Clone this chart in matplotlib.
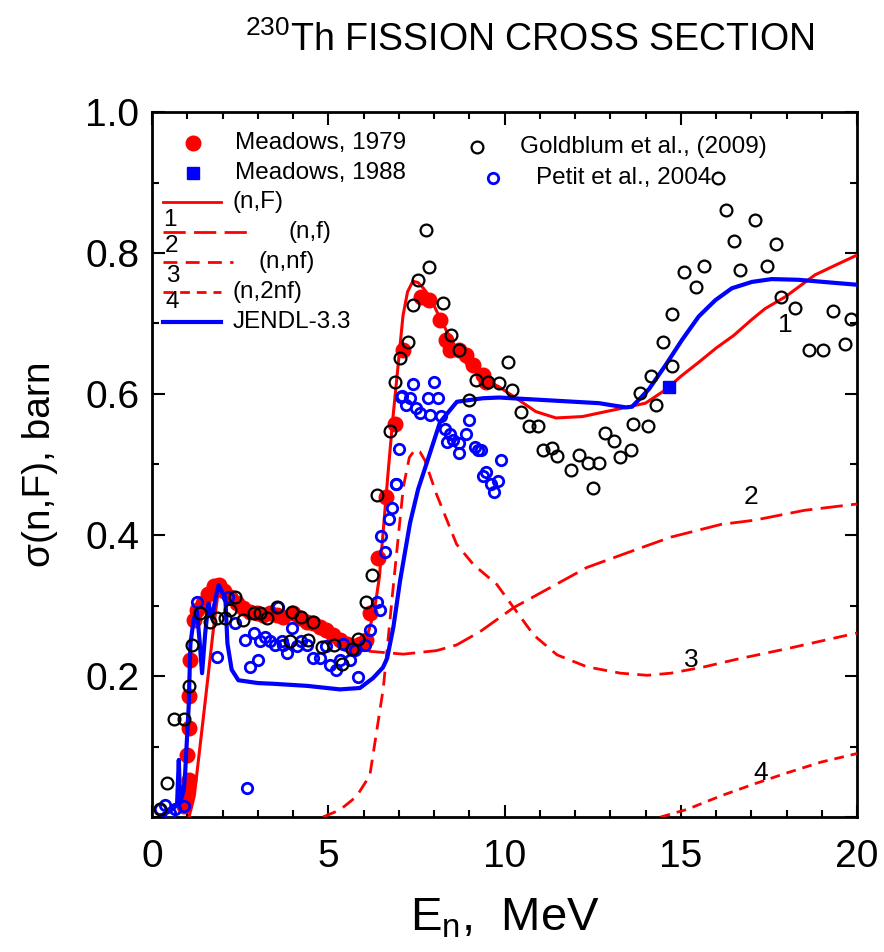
import numpy as np
import matplotlib
matplotlib.use("Agg")
import matplotlib.pyplot as plt
from matplotlib.lines import Line2D
from matplotlib.ticker import MultipleLocator, FuncFormatter

plt.rcParams['font.family'] = ['Liberation Sans', 'DejaVu Sans']
plt.rcParams['mathtext.fontset'] = 'custom'
plt.rcParams['mathtext.rm'] = 'Liberation Sans'
plt.rcParams['mathtext.it'] = 'Liberation Sans'

# ---- evaluated curves ----
# 1: (n,F) total
nF_e = [1.05, 1.2, 1.5, 1.75, 1.88, 2.0, 2.2, 2.5, 3.0, 3.5, 4.0, 4.5, 5.0, 5.3, 5.6, 5.9,
        6.1, 6.3, 6.45, 6.55, 6.7, 6.84, 7.0, 7.12, 7.25, 7.4, 7.55, 7.7, 7.88, 8.1, 8.37,
        8.74, 9.0, 9.39, 9.85, 10.42, 10.89, 11.46, 12.21, 12.87, 13.45, 14.0, 14.6, 15.0,
        15.51, 16.0, 16.5, 17.0, 17.39, 17.97, 18.81, 19.4, 20.0]
nF_s = [0.0, 0.03, 0.16, 0.27, 0.32, 0.322, 0.312, 0.30, 0.291, 0.288, 0.286, 0.277, 0.264,
        0.255, 0.246, 0.246, 0.256, 0.29, 0.34, 0.40, 0.49, 0.569, 0.65, 0.711, 0.745, 0.76,
        0.758, 0.75, 0.738, 0.715, 0.688, 0.655, 0.638, 0.622, 0.610, 0.591, 0.575, 0.566,
        0.568, 0.575, 0.581, 0.587, 0.607, 0.625, 0.645, 0.665, 0.683, 0.705, 0.721, 0.738,
        0.769, 0.783, 0.797]

# 2: (n,f) first chance
nf_e = [6.0, 6.18, 7.13, 8.07, 8.64, 9.31, 10.26, 11.21, 12.34, 13.77, 14.72, 16.14, 17.09,
        18.51, 20.0]
nf_s = [0.240, 0.235, 0.231, 0.236, 0.244, 0.263, 0.297, 0.323, 0.354, 0.380, 0.397, 0.415,
        0.421, 0.435, 0.444]

# 3: (n,nf)
nnf_e = [4.85, 5.33, 5.8, 6.18, 6.56, 6.84, 7.13, 7.3, 7.46, 7.6, 7.74, 8.07, 8.64, 9.12,
         9.78, 10.26, 10.83, 11.49, 12.34, 13.29, 14.05, 14.72, 15.67, 16.61, 18.04, 20.0]
nnf_s = [0.0, 0.01, 0.029, 0.059, 0.182, 0.325, 0.468, 0.51, 0.521, 0.518, 0.506, 0.458,
         0.387, 0.358, 0.330, 0.297, 0.258, 0.230, 0.213, 0.204, 0.201, 0.204, 0.213, 0.224,
         0.239, 0.261]

# 4: (n,2nf)
n2nf_e = [14.43, 15.19, 16.14, 17.09, 18.04, 18.99, 20.0]
n2nf_s = [0.0, 0.011, 0.030, 0.047, 0.063, 0.078, 0.090]

# JENDL-3.3
jendl_e = [0.3, 0.5, 0.71, 0.76, 0.80, 0.90, 0.94, 0.99, 1.04, 1.09, 1.18, 1.27, 1.35, 1.42,
           1.51, 1.60, 1.70, 1.80, 1.89, 2.0, 2.08, 2.14, 2.26, 2.45, 3.0, 3.43, 4.4, 5.33,
           5.9, 6.27, 6.55, 6.67, 6.85, 7.04, 7.32, 7.55, 7.8, 8.17, 8.65, 9.39, 9.85, 11.27,
           12.68, 13.05, 13.45, 13.62, 14.1, 14.57, 15.04, 15.51, 15.98, 16.45, 17.02,
           17.58, 18.34, 19.28, 20.0]
jendl_s = [0.003, 0.008, 0.017, 0.081, 0.02, 0.038, 0.062, 0.109, 0.156, 0.246, 0.279, 0.294,
           0.25, 0.204, 0.261, 0.303, 0.282, 0.31, 0.329, 0.318, 0.312, 0.246, 0.209, 0.194,
           0.190, 0.189, 0.186, 0.181, 0.183, 0.197, 0.212, 0.225, 0.27, 0.336, 0.417, 0.465,
           0.503, 0.56, 0.589, 0.594, 0.595, 0.591, 0.587, 0.584, 0.581, 0.582, 0.607, 0.641,
           0.677, 0.710, 0.733, 0.750, 0.759, 0.763, 0.762, 0.758, 0.755]

# ---- experimental data ----
meadows79_e = [0.90, 0.94, 0.99, 1.04, 0.99, 1.04, 1.06, 1.09, 1.18, 1.27, 1.46, 1.60, 1.75,
               1.89, 2.03, 2.22, 2.41, 2.59, 2.78, 2.97, 3.16, 3.35, 3.54, 3.72, 4.01, 4.20,
               4.39, 4.57, 4.76, 4.95, 5.14, 5.33, 5.52, 5.70, 5.89, 6.08, 6.18, 6.41, 6.65,
               6.88, 7.12, 7.64, 7.87, 8.16, 8.35, 8.44, 8.72, 8.91, 9.10, 9.38, 9.48]
meadows79_s = [0.015, 0.024, 0.038, 0.052, 0.088, 0.126, 0.171, 0.223, 0.279, 0.294, 0.303,
               0.317, 0.327, 0.329, 0.320, 0.312, 0.303, 0.296, 0.291, 0.289, 0.287, 0.289,
               0.287, 0.284, 0.289, 0.282, 0.277, 0.275, 0.270, 0.265, 0.258, 0.251, 0.246,
               0.242, 0.246, 0.251, 0.289, 0.367, 0.454, 0.558, 0.662, 0.738, 0.733, 0.705,
               0.677, 0.662, 0.662, 0.655, 0.641, 0.627, 0.617]

meadows88_e = [14.68]
meadows88_s = [0.610]

goldblum_e = [0.24, 0.43, 0.61, 0.90, 1.04, 1.13, 1.37, 1.65, 1.84, 2.08, 2.22, 2.36, 2.59,
              2.88, 3.07, 3.25, 3.54, 3.96, 4.24, 4.57, 3.91, 4.43, 4.81, 5.17, 5.40, 5.66,
              5.85, 6.06, 6.25, 6.37, 6.74, 6.88, 7.04, 7.26, 7.40, 7.54, 7.78, 7.87, 8.25,
              8.49, 8.70, 9.0, 9.19, 9.52, 9.85, 10.09, 10.21, 10.47, 10.70, 10.94, 11.08,
              11.36, 11.50, 11.88, 12.12, 12.38, 12.68, 12.51, 12.85, 13.10, 13.29, 13.58,
              13.65, 14.08, 13.84, 14.30, 14.17, 14.75, 14.49, 14.75, 15.08, 15.44, 15.67,
              16.05, 16.29, 16.52, 16.69, 17.11, 17.44, 17.71, 17.84, 18.24, 19.31, 19.83,
              18.64, 19.04, 19.66]
goldblum_s = [0.011, 0.048, 0.139, 0.139, 0.186, 0.244, 0.289, 0.277, 0.282, 0.282, 0.294,
              0.312, 0.280, 0.289, 0.289, 0.282, 0.298, 0.291, 0.283, 0.277, 0.249, 0.251,
              0.241, 0.244, 0.217, 0.238, 0.252, 0.305, 0.343, 0.457, 0.548, 0.617, 0.651,
              0.674, 0.726, 0.762, 0.833, 0.780, 0.729, 0.684, 0.663, 0.592, 0.620, 0.617,
              0.615, 0.646, 0.606, 0.575, 0.555, 0.555, 0.521, 0.524, 0.512, 0.492, 0.513,
              0.502, 0.502, 0.466, 0.544, 0.534, 0.511, 0.521, 0.557, 0.555, 0.602, 0.585,
              0.626, 0.640, 0.674, 0.714, 0.773, 0.752, 0.782, 0.906, 0.861, 0.817, 0.776,
              0.847, 0.782, 0.813, 0.738, 0.722, 0.718, 0.707, 0.663, 0.663, 0.671]

petit_e = [0.24, 0.38, 0.52, 0.66, 0.90, 1.27, 1.84, 2.17, 2.36, 2.69, 2.64, 2.78, 2.88,
           3.02, 3.07, 3.21, 3.35, 3.49, 3.58, 3.68, 3.72, 3.82, 3.96, 4.10, 4.24, 4.39,
           4.57, 4.76, 4.95, 5.05, 5.23, 5.33, 5.42, 5.61, 5.75, 5.85, 6.04, 6.18, 6.37,
           6.46, 6.51, 6.60, 6.72, 6.80, 6.91, 7.02, 7.09, 7.21, 7.40, 8.01, 7.07, 7.31,
           7.50, 7.59, 7.83, 8.11, 7.90, 8.20, 8.30, 8.44, 8.53, 8.36, 8.72, 8.70, 8.91,
           9.0, 9.15, 9.24, 9.33, 9.90, 9.48, 9.38, 9.62, 9.81, 9.71, 6.93]
petit_s = [0.012, 0.017, 0.005, 0.012, 0.015, 0.305, 0.227, 0.312, 0.275, 0.041, 0.251,
           0.213, 0.261, 0.223, 0.249, 0.256, 0.249, 0.244, 0.298, 0.249, 0.244, 0.232,
           0.268, 0.242, 0.249, 0.244, 0.225, 0.225, 0.242, 0.216, 0.209, 0.223, 0.246,
           0.223, 0.237, 0.199, 0.244, 0.265, 0.305, 0.294, 0.398, 0.376, 0.422, 0.439,
           0.472, 0.522, 0.597, 0.584, 0.614, 0.617, 0.596, 0.594, 0.580, 0.573, 0.595,
           0.594, 0.570, 0.569, 0.551, 0.543, 0.535, 0.532, 0.530, 0.517, 0.543, 0.563,
           0.525, 0.521, 0.520, 0.506, 0.490, 0.483, 0.473, 0.476, 0.461, 0.473]

RED = '#ff0000'
BLUE = '#0000ff'

fig = plt.figure(figsize=(8.84, 9.52), dpi=100)
ax = fig.add_axes([152 / 884, 1 - 817 / 952, 705 / 884, 705 / 952])

# curves
ax.plot(nF_e, nF_s, color=RED, lw=2.2, zorder=3)
ax.plot(nf_e, nf_s, color=RED, lw=2.0, dashes=(8, 3), zorder=3)
ax.plot(nnf_e, nnf_s, color=RED, lw=2.0, dashes=(5, 3), zorder=3)
ax.plot(n2nf_e, n2nf_s, color=RED, lw=2.0, dashes=(3.5, 2.5), zorder=3)

# data
ax.plot(meadows79_e, meadows79_s, 'o', color=RED, ms=10.5, mec=RED, zorder=2)
ax.plot(meadows88_e, meadows88_s, 's', color=BLUE, ms=9, zorder=6)
ax.plot(petit_e, petit_s, 'o', mfc='none', mec=BLUE, ms=7.5, mew=2.0, zorder=4)
ax.plot(jendl_e, jendl_s, color=BLUE, lw=3.0, zorder=5)
ax.plot(goldblum_e, goldblum_s, 'o', mfc='none', mec='black', ms=8.5, mew=1.6, zorder=6)

# curve numbers
ax.text(17.97, 0.698, '1', fontsize=19, ha='center', va='center')
ax.text(16.98, 0.454, '2', fontsize=19, ha='center', va='center')
ax.text(15.29, 0.223, '3', fontsize=19, ha='center', va='center')
ax.text(17.26, 0.062, '4', fontsize=19, ha='center', va='center')

ax.set_xlim(0, 20)
ax.set_ylim(0, 1.0)
ax.xaxis.set_major_locator(MultipleLocator(5))
ax.xaxis.set_minor_locator(MultipleLocator(1))
ax.yaxis.set_major_locator(MultipleLocator(0.2))
ax.yaxis.set_minor_locator(MultipleLocator(0.1))
ax.yaxis.set_major_formatter(FuncFormatter(lambda v, p: '' if abs(v) < 1e-9 else f'{v:.1f}'))
ax.tick_params(which='both', direction='in', top=True, right=True, width=1.5)
ax.tick_params(which='major', length=9, labelsize=28)
ax.tick_params(which='minor', length=5)
ax.tick_params(axis='x', pad=16)
ax.tick_params(axis='y', pad=9)
for s in ax.spines.values():
    s.set_linewidth(2.0)

ax.set_xlabel(r'E$_{\mathregular{n}}$,  MeV', fontsize=34, labelpad=15)
ax.set_ylabel('σ(n,F), barn', fontsize=28, labelpad=20)
fig.text(530 / 884, 1 - 40 / 952, r'$^{\mathregular{230}}$Th FISSION CROSS SECTION',
         fontsize=27, ha='center', va='center')


# legend drawn by hand (pixel positions of the original layout)
def P(px, py):
    return ((px - 152) / 705, (817 - py) / 705)


tr = ax.transAxes
lf = 17.5
x0, y0 = P(192.7, 142.7)
ax.add_line(Line2D([x0], [y0], marker='o', color=RED, ms=10.5, transform=tr))
ax.text(*P(235, 142.7), 'Meadows, 1979', fontsize=lf, va='center', transform=tr)
x0, y0 = P(192.7, 173.3)
ax.add_line(Line2D([x0], [y0], marker='s', color=BLUE, ms=9, transform=tr))
ax.text(*P(235, 173.3), 'Meadows, 1988', fontsize=lf, va='center', transform=tr)

leg_lines = [(221, 201.7, None, '(n,F)', 233, '1', 170, 220),
             (253, 231.7, (8, 3), '(n,f)', 288, '2', 172, 246),
             (233, 261.7, (5, 3), '(n,nf)', 259, '3', 173, 276),
             (221, 291.7, (3.5, 2.5), '(n,2nf)', 233, '4', 172, 302)]
for xe, yy, dsh, lab, xt, num, xn, yn in leg_lines:
    a, b = P(163, yy)
    c, _ = P(xe, yy)
    ln = Line2D([a, c], [b, b], color=RED, lw=2.0, transform=tr)
    if dsh:
        ln.set_dashes(dsh)
    ax.add_line(ln)
    ax.text(*P(xt, yy), lab, fontsize=lf, va='center', transform=tr)
    ax.text(*P(xn, yn), num, fontsize=lf, ha='center', va='center', transform=tr)

a, b = P(163, 321.7)
c, _ = P(221, 321.7)
ax.add_line(Line2D([a, c], [b, b], color=BLUE, lw=3.0, transform=tr))
ax.text(*P(233, 321.7), 'JENDL-3.3', fontsize=lf, va='center', transform=tr)

x0, y0 = P(476.7, 146.7)
ax.add_line(Line2D([x0], [y0], marker='o', mfc='none', mec='black', ms=8.5, mew=1.6,
                   transform=tr))
ax.text(*P(520, 146.7), 'Goldblum et al., (2009)', fontsize=lf, va='center', transform=tr)
x0, y0 = P(492.7, 178.3)
ax.add_line(Line2D([x0], [y0], marker='o', mfc='none', mec=BLUE, ms=7.5, mew=2.0,
                   transform=tr))
ax.text(*P(536, 178.3), 'Petit et al., 2004', fontsize=lf, va='center', transform=tr)

fig.savefig('out.png', dpi=100)
